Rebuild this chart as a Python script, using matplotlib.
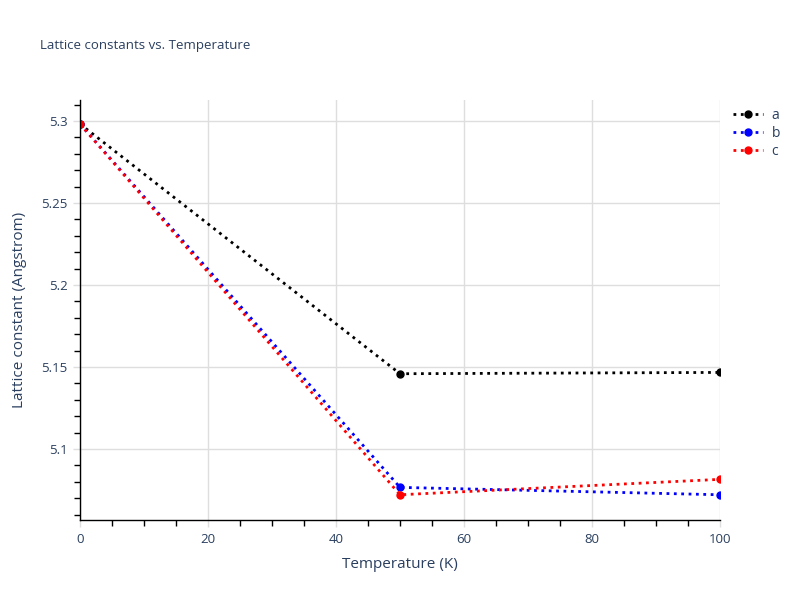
import matplotlib.pyplot as plt
from matplotlib.ticker import MultipleLocator, FuncFormatter

plt.rcParams["font.family"] = ["Open Sans", "DejaVu Sans"]

# data
temperature = [0, 50, 100]
lattice_a = [5.2982, 5.1459, 5.1467]
lattice_b = [5.2982, 5.0766, 5.0721]
lattice_c = [5.2982, 5.0721, 5.0815]

series = [("a", lattice_a, "black"), ("b", lattice_b, "blue"), ("c", lattice_c, "red")]

text_color = "#2a3f5f"
grid_color = "#dedede"

fig = plt.figure(figsize=(8, 6), dpi=100)
ax = fig.add_axes([0.1, 0.1333, 0.8, 0.7])

for name, vals, col in series:
    ax.plot(temperature, vals, linestyle=":", linewidth=2, color=col,
            marker="o", markersize=5, label=name)

ax.set_xlim(0, 100)
ax.set_ylim(5.0567, 5.3128)

ax.xaxis.set_major_locator(MultipleLocator(20))
ax.xaxis.set_minor_locator(MultipleLocator(5))
ax.yaxis.set_major_locator(MultipleLocator(0.05))
ax.yaxis.set_minor_locator(MultipleLocator(0.01))
ax.yaxis.set_major_formatter(FuncFormatter(lambda v, p: f"{v:g}"))

ax.grid(True, which="major", color=grid_color, linewidth=1)
ax.set_axisbelow(True)

for side in ["top", "right"]:
    ax.spines[side].set_visible(False)
for side in ["left", "bottom"]:
    ax.spines[side].set_color("black")
    ax.spines[side].set_linewidth(1)

ax.tick_params(which="major", length=5, color=grid_color, width=1,
               labelcolor=text_color, labelsize=9.5, pad=4)
ax.tick_params(which="minor", length=4, color="black", width=1)

ax.set_xlabel("Temperature (K)", color=text_color, fontsize=11, labelpad=8)
ax.set_ylabel("Lattice constant (Angstrom)", color=text_color, fontsize=11, labelpad=10)

fig.text(0.05, 0.924, "Lattice constants vs. Temperature", color=text_color,
         fontsize=9.5, va="center", ha="left")

leg = ax.legend(loc="upper left", bbox_to_anchor=(1.0, 1.01), frameon=False,
                fontsize=10, handlelength=2.2, labelspacing=0.2,
                handletextpad=0.6)
for t in leg.get_texts():
    t.set_color(text_color)

fig.savefig("out.png", dpi=100)
